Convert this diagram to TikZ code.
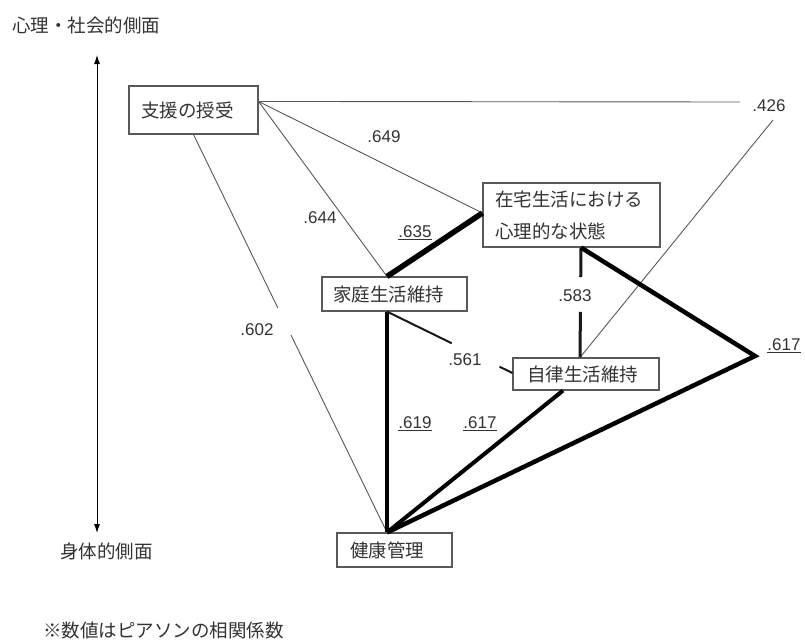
\documentclass[tikz,border=0pt]{standalone}
\usepackage{fontspec}
\newfontfamily\jpfont{Noto Sans CJK JP}
\newfontfamily\numfont{Liberation Sans}
\usetikzlibrary{arrows.meta,calc}
\begin{document}
\begin{tikzpicture}[x=1pt,y=-1pt,
  jptext/.style={font=\jpfont\fontsize{18.5}{32}\selectfont, text=black!80, inner sep=0pt},
  box/.style={draw=black!65, line width=1.1pt, jptext, align=left, inner ysep=0pt, anchor=center},
  lab/.style={font=\numfont\fontsize{17}{19}\selectfont, text=black!80, inner sep=0pt},
  thinline/.style={draw=black!65, line width=0.9pt},
  heavyA/.style={draw=black, line width=5.5pt},
  heavyB/.style={draw=black, line width=4.5pt, line join=miter},
  heavyC/.style={draw=black, line width=4pt},
  medline/.style={draw=black!90, line width=3pt},
  lightline/.style={draw=black!90, line width=2pt},
  axis/.style={draw=black, line width=0.9pt, {Latex[length=9pt,width=6pt]}-{Latex[length=9pt,width=6pt]}}
]
\fill[white] (0,0) rectangle (805,641);
\useasboundingbox (0,0) rectangle (805,641);

% boxes
\node[box, text width=105pt, inner xsep=12pt, minimum height=48pt] (shien) at (193.5,110) {支援の授受};
\node[box, text width=153pt, inner xsep=12pt, minimum height=64pt] (zaitaku) at (571.5,215) {在宅生活における\\心理的な状態};
\node[box, text width=123pt, inner xsep=11pt, minimum height=34pt] (katei) at (394.5,294) {家庭生活維持};
\node[box, text width=118pt, inner xsep=14pt, minimum height=32pt] (jiritsu) at (586,374) {自律生活維持};
\node[box, text width=89pt, inner xsep=13pt, minimum height=34pt] (kenko) at (394.5,550) {健康管理};

% side texts
\node[jptext, anchor=west] (top) at (12,25) {心理・社会的側面};
\node[jptext, anchor=west] (bottom) at (60,551) {身体的側面};
\node[jptext, anchor=west] (note) at (43,630) {※数値はピアソンの相関係数};

% axis arrow
\coordinate (aT) at (97,55);
\coordinate (aB) at (97,533);
\draw[axis] (aT) -- (aB);

% connection points
\coordinate (sR) at ([yshift=-16pt]shien.north east);
\coordinate (sB) at (shien.south);
\coordinate (zL) at ([yshift=2pt]zaitaku.west);
\coordinate (zB) at ([xshift=9.5pt]zaitaku.south);
\coordinate (kT) at ([xshift=-7.5pt]katei.north);
\coordinate (kB) at ([xshift=-7.5pt]katei.south);
\coordinate (jT) at ([xshift=-6pt]jiritsu.north);
\coordinate (jL) at ([yshift=1pt]jiritsu.west);
\coordinate (jB) at ([xshift=-23pt]jiritsu.south);
\coordinate (hT) at ([xshift=-7.5pt]kenko.north);
\coordinate (v) at (755,356);
\coordinate (c1) at (740,102);
\coordinate (c2) at (773,120);

% thin lines
\draw[thinline] (sR) -- (c1);
\draw[thinline] (c2) -- (jT);
\draw[thinline] (sR) -- (zL);
\draw[thinline] (sR) -- (kT);
\draw[thinline] (sB) -- ($(sB)!0.436!(hT)$);
\draw[thinline] ($(sB)!0.504!(hT)$) -- (hT);

% heavy lines
\draw[heavyA] (kT) -- (zL);
\draw[medline] (zB) -- ($(zB)!0.27!(jT)$);
\draw[medline] ($(zB)!0.586!(jT)$) -- (jT);
\draw[heavyB] (zB) -- (v) -- (hT);
\draw[heavyC] (kB) -- (hT);
\draw[heavyC] (jB) -- (hT);
\draw[lightline] (kB) -- ($(kB)!0.516!(jL)$);
\draw[lightline] ($(kB)!0.897!(jL)$) -- (jL);

% labels
\node[lab] (l426) at (769,106) {.426};
\node[lab] (l649) at (384,137) {.649};
\node[lab] (l644) at (320,218) {.644};
\node[lab] (l635) at (415,233) {\underline{.635}};
\node[lab] (l602) at (257,330) {.602};
\node[lab] (l583) at (575,296) {.583};
\node[lab] (l561) at (465,360) {.561};
\node[lab] (l617a) at (784,346) {\underline{.617}};
\node[lab] (l619) at (415,424) {\underline{.619}};
\node[lab] (l617b) at (480,424) {\underline{.617}};
\end{tikzpicture}
\end{document}
